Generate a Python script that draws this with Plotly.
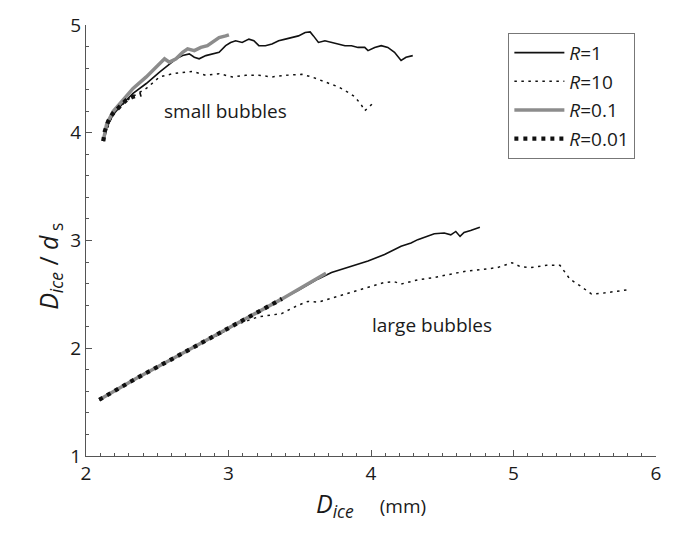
import plotly.graph_objects as go

# ---- small bubbles ----
small_r1_x = [2.121, 2.144, 2.190, 2.260, 2.330, 2.423, 2.516, 2.585, 2.632, 2.678, 2.725, 2.760,
              2.794, 2.841, 2.887, 2.934, 2.980, 3.015, 3.050, 3.096, 3.143, 3.178, 3.213, 3.259,
              3.305, 3.352, 3.399, 3.445, 3.491, 3.538, 3.573, 3.596, 3.631, 3.677, 3.723, 3.770,
              3.817, 3.863, 3.909, 3.956, 3.979, 4.026, 4.072, 4.118, 4.165, 4.211, 4.246, 4.293]
small_r1_y = [3.923, 4.044, 4.167, 4.274, 4.365, 4.457, 4.563, 4.640, 4.686, 4.716, 4.732, 4.701,
              4.686, 4.716, 4.732, 4.747, 4.808, 4.838, 4.854, 4.838, 4.869, 4.854, 4.808, 4.808,
              4.823, 4.854, 4.869, 4.884, 4.899, 4.930, 4.936, 4.899, 4.838, 4.854, 4.838, 4.823,
              4.808, 4.808, 4.792, 4.792, 4.762, 4.792, 4.808, 4.792, 4.747, 4.671, 4.701, 4.716]

small_r10_x = [2.121, 2.167, 2.214, 2.307, 2.423, 2.516, 2.608, 2.748, 2.841, 2.934, 3.027, 3.120,
               3.213, 3.305, 3.399, 3.514, 3.584, 3.677, 3.770, 3.840, 3.886, 3.932, 3.956, 4.014]
small_r10_y = [3.923, 4.106, 4.213, 4.320, 4.411, 4.518, 4.548, 4.570, 4.533, 4.548, 4.518, 4.533,
               4.533, 4.518, 4.533, 4.542, 4.518, 4.472, 4.426, 4.375, 4.335, 4.259, 4.204, 4.274]

small_r01_x = [2.121, 2.144, 2.190, 2.260, 2.330, 2.423, 2.493, 2.551, 2.585, 2.632, 2.678, 2.713,
               2.760, 2.806, 2.852, 2.887, 2.934, 2.980, 3.003]
small_r01_y = [3.923, 4.076, 4.197, 4.304, 4.411, 4.518, 4.609, 4.686, 4.655, 4.686, 4.747, 4.778,
               4.762, 4.792, 4.808, 4.838, 4.884, 4.899, 4.909]

small_r001_x = [2.121, 2.132, 2.155, 2.190, 2.237, 2.284, 2.330, 2.388]
small_r001_y = [3.923, 4.015, 4.106, 4.182, 4.243, 4.305, 4.335, 4.356]

# ---- large bubbles ----
large_r1_x = [2.093, 2.348, 2.604, 2.859, 3.115, 3.375, 3.487, 3.626, 3.723, 3.863, 3.979, 4.095,
              4.211, 4.281, 4.328, 4.444, 4.514, 4.560, 4.595, 4.625, 4.653, 4.699, 4.764]
large_r1_y = [1.522, 1.717, 1.900, 2.086, 2.275, 2.458, 2.535, 2.641, 2.703, 2.764, 2.810, 2.870,
              2.947, 2.977, 3.008, 3.062, 3.069, 3.053, 3.084, 3.038, 3.075, 3.093, 3.124]

large_r10_x = [2.093, 2.348, 2.604, 2.859, 2.929, 3.045, 3.208, 3.371, 3.487, 3.556, 3.631, 3.747,
               3.863, 3.979, 4.095, 4.165, 4.211, 4.258, 4.328, 4.444, 4.560, 4.676, 4.792, 4.885,
               4.990, 5.048, 5.117, 5.233, 5.326, 5.361, 5.396, 5.466, 5.547, 5.620, 5.720, 5.815]
large_r10_y = [1.522, 1.717, 1.900, 2.086, 2.123, 2.215, 2.291, 2.321, 2.398, 2.434, 2.428, 2.474,
               2.519, 2.565, 2.611, 2.617, 2.596, 2.611, 2.635, 2.657, 2.687, 2.718, 2.733, 2.748,
               2.794, 2.757, 2.748, 2.770, 2.770, 2.703, 2.641, 2.581, 2.504, 2.510, 2.525, 2.545]

large_r01_x = [2.093, 2.348, 2.604, 2.859, 3.115, 3.375, 3.684]
large_r01_y = [1.522, 1.717, 1.900, 2.086, 2.275, 2.458, 2.696]

large_r001_x = [2.093, 2.348, 2.604, 2.859, 3.115, 3.375]
large_r001_y = [1.522, 1.717, 1.900, 2.086, 2.275, 2.458]

x_ticks = [2, 3, 4, 5, 6]
y_ticks = [1, 2, 3, 4, 5]

FONT = "Open Sans"
INK = "#1a1a1a"
AXIS = "#555555"

styles = {
    "R1": dict(color="#111111", width=1.6, dash="solid"),
    "R10": dict(color="#111111", width=1.5, dash="2.5px,4.5px"),
    "R01": dict(color="#8c8c8c", width=3.5, dash="solid"),
    "R001": dict(color="#111111", width=4.2, dash="4px,5px"),
}
names = {"R1": "<i>R</i>=1", "R10": "<i>R</i>=10", "R01": "<i>R</i>=0.1", "R001": "<i>R</i>=0.01"}
order = {"R1": 1, "R10": 2, "R01": 3, "R001": 4}

series = [
    ("R1", large_r1_x, large_r1_y, False),
    ("R10", large_r10_x, large_r10_y, False),
    ("R01", large_r01_x, large_r01_y, False),
    ("R001", large_r001_x, large_r001_y, False),
    ("R1", small_r1_x, small_r1_y, True),
    ("R10", small_r10_x, small_r10_y, True),
    ("R01", small_r01_x, small_r01_y, True),
    ("R001", small_r001_x, small_r001_y, True),
]

fig = go.Figure()
for key, xs, ys, show in series:
    fig.add_trace(go.Scatter(
        x=xs, y=ys, mode="lines", name=names[key], legendgroup=key,
        legendrank=order[key], showlegend=show, line=styles[key], hoverinfo="skip",
    ))

fig.add_annotation(x=2.98, y=4.20, text="small bubbles", showarrow=False,
                   font=dict(family=FONT, size=19, color=INK))
fig.add_annotation(x=4.43, y=2.22, text="large bubbles", showarrow=False,
                   font=dict(family=FONT, size=19, color=INK))

# y-axis title, placed a little below the plot's mid-height
fig.add_annotation(
    xref="paper", yref="paper", x=-0.10, y=0.44, textangle=-90,
    text="<i>D</i><sub><i>ice</i></sub> / <i>d</i><sub> s</sub>", showarrow=False,
    font=dict(family=FONT, size=25, color=INK),
)

axis_common = dict(
    showgrid=False, zeroline=False, showline=True, linecolor=AXIS, linewidth=1,
    ticks="inside", ticklen=6, tickcolor=AXIS, tickwidth=1,
    tickfont=dict(family=FONT, size=19, color=INK), mirror=False, layer="above traces",
)

fig.update_layout(
    template="simple_white",
    width=673, height=536,
    margin=dict(l=86, r=13, t=19, b=80),
    showlegend=True,
    legend=dict(
        x=0.741, y=0.982, xanchor="left", yanchor="top",
        bordercolor="#777777", borderwidth=1, bgcolor="white",
        font=dict(family=FONT, size=19, color=INK),
        traceorder="grouped", tracegroupgap=1, itemwidth=50,
    ),
    xaxis=dict(
        range=[2, 6], tickvals=x_ticks, ticktext=[str(v) for v in x_ticks],
        minor=dict(ticks="inside", dtick=0.1, ticklen=3, tickcolor=AXIS),
        title=dict(text="<i>D</i><sub><i>ice</i></sub>    <span style='font-size:19px'>(mm)</span>",
                   font=dict(family=FONT, size=25, color=INK), standoff=10),
        **axis_common,
    ),
    yaxis=dict(
        range=[1, 5], tickvals=y_ticks, ticktext=[str(v) for v in y_ticks],
        minor=dict(ticks="inside", dtick=0.2, ticklen=3, tickcolor=AXIS),
        **axis_common,
    ),
)

fig.write_html("out.html")
